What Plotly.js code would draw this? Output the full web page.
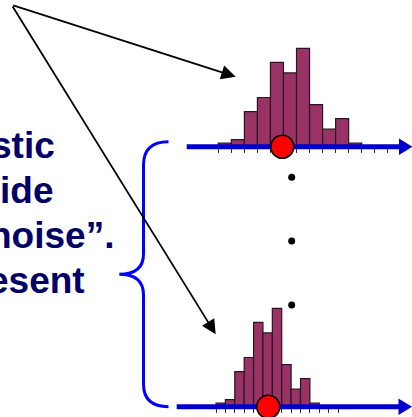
<!DOCTYPE html>
<html>
<head>
<meta charset="utf-8">
<script src="https://cdn.plot.ly/plotly-3.0.1.min.js"></script>
<style>
  html, body { margin: 0; padding: 0; background: #fff; }
  #chart { width: 412px; height: 417px; }
</style>
</head>
<body>
<div id="chart"></div>
<script>
// histogram bins (bin index) and counts
const binCenters = [0, 1, 2, 3, 4, 5, 6, 7, 8, 9, 10];
const topCounts = [1, 2, 10, 14, 24, 21, 28, 12, 5, 8, 1];
const bottomCounts = [1, 2, 10, 14, 24, 21, 28, 12, 5, 8, 1];
// red marker on each axis (value in bin units)
const topMarker = [4.41];
const bottomMarker = [5.07];
// text cut off by the left edge of the crop
const textLines = ['stic', 'ide', 'noise”.', 'esent'];
const textRight = [57, 55, 116, 87];
const textBaseline = [158, 203, 248, 293];
// vertical ellipsis between the two histograms
const dotX = [291.7, 291.7, 291.7];
const dotY = [177.3, 241, 305];

const W = 412, H = 417;
const UNIT = 3.514; // px per count
const px = (x) => x / W;
const py = (y) => 1 - y / H;

// pixel placement of the two histogram panels
function panel(left, binW, base, yMin) {
  return {
    xDomain: [px(left - 0.1 * binW), px(left + 13.1 * binW)],
    yDomain: [Math.max(0, py(base - yMin * UNIT)), py(base - 30 * UNIT)],
    yRange: [yMin, 30],
    pos: py(base),
  };
}
const topPanel = panel(218.3, 13.036, 146.7, -4);
const botPanel = panel(216.0, 9.39, 406.7, -(H - 406.7) / UNIT);

function histAxis(p) {
  return {
    domain: p.xDomain, range: [-0.6, 12.6],
    anchor: 'free', position: p.pos,
    ticks: 'outside', tickmode: 'linear', tick0: -0.5, dtick: 1,
    ticklen: 5, tickwidth: 1, tickcolor: '#333',
    showticklabels: false, showgrid: false, zeroline: false, showline: false,
  };
}

const barStyle = {
  type: 'bar', width: 1,
  marker: { color: '#993366', line: { color: '#2a1520', width: 1.2 } },
  hoverinfo: 'skip',
};

const traces = [
  { ...barStyle, x: binCenters, y: topCounts, xaxis: 'x', yaxis: 'y' },
  { ...barStyle, x: binCenters, y: bottomCounts, xaxis: 'x2', yaxis: 'y2' },
  {
    type: 'scatter', mode: 'markers', x: dotX, y: dotY, xaxis: 'x3', yaxis: 'y3',
    marker: { size: 7, color: '#000' }, cliponaxis: false, hoverinfo: 'skip',
  },
];

function axisArrow(x0, x1, y) {
  return [
    { type: 'line', xref: 'x3', yref: 'y3', x0, x1, y0: y, y1: y,
      line: { color: '#0000cc', width: 5 } },
    { type: 'path', xref: 'x3', yref: 'y3',
      path: `M${x1 - 1},${y - 8.2} L${x1 + 12.5},${y} L${x1 - 1},${y + 8.2} Z`,
      fillcolor: '#0000cc', line: { width: 0 } },
  ];
}

function marker(xref, yref, value) {
  return {
    type: 'circle', xref, yref, xsizemode: 'pixel', ysizemode: 'pixel',
    xanchor: value, yanchor: 0, x0: -11.5, x1: 11.5, y0: -11.5, y1: 11.5,
    fillcolor: '#ff0000', line: { color: '#000', width: 1.6 },
  };
}

const bracePath = 'M168.5,141.7 Q143.5,141.7 143.5,165 L143.5,254 ' +
  'Q143.5,274.3 119.3,274.3 Q143.5,274.3 143.5,295 L143.5,384 ' +
  'Q143.5,406.7 168.5,406.7';

const shapes = [
  ...axisArrow(186.7, 400, 146.7),
  ...axisArrow(176.7, 399.5, 406.7),
  marker('x', 'y', topMarker[0]),
  marker('x2', 'y2', bottomMarker[0]),
  { type: 'path', xref: 'x3', yref: 'y3', path: bracePath,
    line: { color: '#0000ff', width: 3 }, fillcolor: 'rgba(0,0,0,0)' },
];

const annotations = textLines.map((t, i) => ({
  x: textRight[i], y: textBaseline[i] - 12.8, xref: 'x3', yref: 'y3',
  xanchor: 'right', yanchor: 'middle', showarrow: false,
  text: '<b>' + t + '</b>',
  font: { family: 'Liberation Sans, Arial, sans-serif', size: 37, color: '#000066' },
}));

// the two pointer arrows from the top-left corner
[[235.7, 76.7], [215.7, 334.3]].forEach(([x, y]) => {
  annotations.push({
    x, y, ax: 11.7, ay: 5, xref: 'x3', yref: 'y3', axref: 'x3', ayref: 'y3',
    text: '', showarrow: true, arrowhead: 2, arrowsize: 1.6, arrowwidth: 1.8,
    arrowcolor: '#000', standoff: 0,
  });
});

const layout = {
  width: W, height: H,
  margin: { l: 0, r: 0, t: 0, b: 0 },
  paper_bgcolor: '#fff', plot_bgcolor: 'rgba(0,0,0,0)',
  showlegend: false, bargap: 0,
  xaxis: histAxis(topPanel),
  yaxis: { domain: topPanel.yDomain, range: topPanel.yRange, visible: false },
  xaxis2: histAxis(botPanel),
  yaxis2: { domain: botPanel.yDomain, range: botPanel.yRange, visible: false },
  xaxis3: { domain: [0, 1], range: [0, W], visible: false, anchor: 'y3' },
  yaxis3: { domain: [0, 1], range: [H, 0], visible: false, anchor: 'x3' },
  shapes,
  annotations,
};

Plotly.newPlot('chart', traces, layout, { staticPlot: true, displayModeBar: false });
</script>
</body>
</html>
